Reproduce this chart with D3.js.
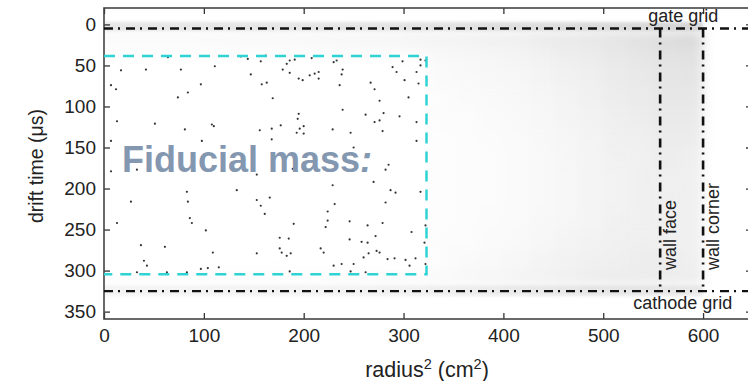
<!DOCTYPE html>
<html>
<head>
<meta charset="utf-8">
<script src="https://cdn.jsdelivr.net/npm/d3@7"></script>
<style>
  body { margin:0; overflow:hidden; background:#fff; }
  svg { display:block; font-family:"Liberation Sans", Arial, sans-serif; }
</style>
</head>
<body>
<svg width="748" height="381"></svg>
<script>
// ticks
const xTicks = [0, 100, 200, 300, 400, 500, 600]
const yTicks = [0, 50, 100, 150, 200, 250, 300, 350]

// detector boundaries (radius^2 in cm2, drift time in us)
const gateT = 5
const cathodeT = 325
const wallFaceR2 = 557
const wallCornerR2 = 600
const fiducialR2 = [0, 323]
const fiducialT = [38.5, 304.5]

// events inside the fiducial volume [radius2, drift time]
const fiducialEvents = [
  [64,40],[137,39],[144,42],[157,45],[162,38],[17,56],[42,55],[77,55],[111,51],[147,61],
  [179,55],[183,48],[186,44],[191,43],[208,41],[230,46],[233,44],[186,59],[195,66],[199,68],
  [206,62],[211,60],[215,58],[215,66],[239,55],[238,61],[299,45],[317,43],[322,44],[289,52],
  [293,58],[313,58],[317,50],[7,74],[12,79],[97,73],[84,83],[74,89],[158,73],[163,71],
  [169,90],[236,74],[267,71],[271,79],[301,68],[315,72],[305,89],[276,93],[239,104],[262,110],
  [280,108],[296,112],[195,109],[194,115],[13,118],[51,121],[108,122],[110,124],[177,123],[200,124],
  [271,119],[276,117],[313,119],[81,128],[156,129],[168,127],[193,132],[200,133],[196,127],[229,128],
  [247,132],[279,130],[7,142],[98,142],[168,140],[250,150],[313,142],[33,177],[7,179],[153,183],
  [189,176],[285,171],[282,177],[229,196],[270,192],[133,202],[83,204],[27,216],[84,216],[153,214],
  [166,211],[287,202],[292,205],[317,204],[157,221],[282,217],[231,219],[13,242],[86,236],[88,242],
  [161,231],[224,228],[224,239],[222,247],[190,243],[246,240],[264,245],[279,242],[102,251],[176,260],
  [185,261],[246,262],[272,258],[308,253],[322,245],[37,269],[61,271],[258,265],[264,266],[176,273],
  [178,278],[187,279],[183,282],[217,273],[220,278],[109,278],[153,279],[273,276],[276,278],[265,279],
  [260,284],[321,266],[40,288],[43,294],[284,286],[291,285],[302,287],[312,285],[250,292],[238,292],
  [230,294],[306,294],[322,292],[97,298],[104,297],[115,296],[33,302],[63,302],[83,302],[186,301],
  [247,301],[262,302]
]

// all other events, read as a density map: bin edges + fraction of the bin covered by dots
const cloudR2Edges = [0,25,50,75,100,125,150,175,200,225,250,275,300,325,350,375,400,425,450,475,500,525,550,575,600,625,650]
const cloudTEdges = [8, 25, 38, 50, 75, 100, 125, 150, 175, 200, 225, 250, 275, 302, 318]
const cloudDensity = [
  [.08,.08,.08,.08,.09,.1,.1,.11,.12,.13,.14,.16,.18,.2,.22,.25,.28,.32,.36,.4,.45,.5,.58,.62,0,0],
  [.04,.04,.04,.04,.05,.05,.06,.06,.07,.07,.08,.09,.1,.14,.16,.18,.21,.25,.3,.34,.4,.45,.52,.55,0,0],
  [0,0,0,0,0,0,0,0,0,0,0,0,0,.1,.12,.15,.18,.22,.27,.32,.38,.42,.48,.5,0,0],
  [0,0,0,0,0,0,0,0,0,0,0,0,0,.08,.1,.12,.15,.18,.23,.28,.34,.38,.44,.45,0,0],
  [0,0,0,0,0,0,0,0,0,0,0,0,0,.06,.08,.1,.12,.16,.2,.25,.3,.34,.4,.4,0,0],
  [0,0,0,0,0,0,0,0,0,0,0,0,0,.05,.06,.08,.1,.14,.18,.22,.27,.31,.36,.36,0,0],
  [0,0,0,0,0,0,0,0,0,0,0,0,0,.04,.05,.07,.09,.12,.16,.2,.25,.28,.32,.32,0,0],
  [0,0,0,0,0,0,0,0,0,0,0,0,0,.04,.05,.06,.08,.11,.15,.19,.23,.26,.3,.28,0,0],
  [0,0,0,0,0,0,0,0,0,0,0,0,0,.04,.05,.06,.08,.11,.14,.18,.22,.25,.28,.26,0,0],
  [0,0,0,0,0,0,0,0,0,0,0,0,0,.04,.05,.06,.08,.11,.14,.18,.22,.25,.27,.25,0,0],
  [0,0,0,0,0,0,0,0,0,0,0,0,0,.04,.05,.07,.09,.12,.15,.19,.23,.25,.27,.25,0,0],
  [0,0,0,0,0,0,0,0,0,0,0,0,0,.05,.06,.08,.11,.14,.18,.22,.25,.27,.28,.26,0,0],
  [0,0,0,0,0,0,0,0,0,0,0,0,0,.06,.08,.1,.14,.18,.22,.25,.28,.3,.3,.28,0,0],
  [.04,.04,.04,.04,.05,.05,.05,.06,.06,.07,.07,.08,.08,.1,.13,.17,.2,.24,.27,.3,.32,.33,.32,.3,0,0]
]
// dense thin bands right at the two grids
const gateBandT = [-3, 8]
const gateBand = [.4,.4,.4,.4,.4,.4,.4,.4,.42,.42,.42,.44,.45,.46,.48,.5,.5,.52,.54,.56,.58,.6,.62,.62,0,0]
const cathodeBandT = [318, 331]
const cathodeBand = [.18,.18,.18,.18,.18,.18,.18,.18,.19,.2,.21,.22,.24,.26,.28,.3,.32,.34,.36,.38,.38,.38,.36,.34,0,0]

const svg = d3.select("svg")
const margin = { top:8, left:104 }
const innerWidth = 648   // right frame falls just outside the picture
const innerHeight = 311

const xScale = d3.scaleLinear().domain([0, 649]).range([0, innerWidth])
const yScale = d3.scaleLinear().domain([-20, 359]).range([0, innerHeight])

const g = svg.append("g")
  .attr("transform", `translate(${margin.left},${margin.top})`)

const defs = svg.append("defs")
defs.append("filter").attr("id", "soft")
  .attr("x", "-5%").attr("y", "-5%").attr("width", "110%").attr("height", "110%")
  .append("feGaussianBlur").attr("stdDeviation", 6)
defs.append("filter").attr("id", "softBand")
  .attr("x", "-5%").attr("y", "-50%").attr("width", "110%").attr("height", "200%")
  .append("feGaussianBlur").attr("stdDeviation", 1.5)
defs.append("clipPath").attr("id", "plotClip")
  .append("rect").attr("width", innerWidth).attr("height", innerHeight)

// turn a density row into cells
const toCells = (row, t0, t1) => row.map((v, j) => ({ r0: cloudR2Edges[j], r1: cloudR2Edges[j+1], t0, t1, v }))
  .filter(d => d.v > 0)

const cells = []
cloudDensity.forEach((row, i) => cells.push(...toCells(row, cloudTEdges[i], cloudTEdges[i+1])))
const bandCells = toCells(gateBand, gateBandT[0], gateBandT[1])
  .concat(toCells(cathodeBand, cathodeBandT[0], cathodeBandT[1]))

const drawCells = (parent, data) => parent.selectAll("rect").data(data).enter().append("rect")
  .attr("x", d => xScale(d.r0))
  .attr("y", d => yScale(d.t0))
  .attr("width", d => xScale(d.r1) - xScale(d.r0))
  .attr("height", d => yScale(d.t1) - yScale(d.t0))
  .attr("fill", "#c4c4c4")
  .attr("fill-opacity", d => d.v)

const cloudG = g.append("g").attr("clip-path", "url(#plotClip)")
drawCells(cloudG.append("g").attr("filter", "url(#soft)"), cells)
drawCells(cloudG.append("g").attr("filter", "url(#softBand)"), bandCells)

// fiducial events
g.selectAll("circle.ev").data(fiducialEvents).enter().append("circle")
  .attr("class", "ev")
  .attr("cx", d => xScale(d[0]))
  .attr("cy", d => yScale(d[1]))
  .attr("r", 1.1)
  .attr("fill", "#333")

// axes
const xAxis = d3.axisBottom(xScale).tickValues(xTicks).tickSizeInner(-6).tickSizeOuter(0).tickPadding(10)
const yAxis = d3.axisLeft(yScale).tickValues(yTicks).tickSizeInner(-6).tickSizeOuter(0).tickPadding(8)
const xAxisG = g.append("g").attr("transform", `translate(0,${innerHeight})`).call(xAxis)
const yAxisG = g.append("g").call(yAxis)
const xTopG = g.append("g").call(d3.axisTop(xScale).tickValues(xTicks).tickSizeInner(-6).tickSizeOuter(0))
const yRightG = g.append("g").attr("transform", `translate(${innerWidth},0)`)
  .call(d3.axisRight(yScale).tickValues(yTicks).tickSizeInner(-6).tickSizeOuter(0))
xTopG.selectAll(".tick text").remove()
yRightG.selectAll(".tick text").remove()

;[xAxisG, yAxisG, xTopG, yRightG].forEach(a => {
  a.attr("font-size", 19).attr("font-family", '"Liberation Sans", Arial, sans-serif')
  a.select(".domain").remove()
  a.selectAll(".tick line").attr("stroke", "#333").attr("stroke-width", 1.3)
  a.selectAll(".tick text").attr("fill", "#222")
})

// frame
g.append("rect")
  .attr("width", innerWidth).attr("height", innerHeight)
  .attr("fill", "none").attr("stroke", "#444").attr("stroke-width", 1.6)

// fiducial box
g.append("path")
  .attr("d", `M${xScale(fiducialR2[0])},${yScale(fiducialT[0])}H${xScale(fiducialR2[1])}V${yScale(fiducialT[1])}H${xScale(fiducialR2[0])}`)
  .attr("fill", "none").attr("stroke", "#2fd3d3").attr("stroke-width", 2.5)
  .attr("stroke-dasharray", "11,8")

// grids and walls
const dashDot = "9,5,2,6"
g.append("line")
  .attr("x1", 0).attr("x2", innerWidth)
  .attr("y1", yScale(gateT)).attr("y2", yScale(gateT))
  .attr("stroke", "#111").attr("stroke-width", 2.4).attr("stroke-dasharray", dashDot)
g.append("line")
  .attr("x1", 0).attr("x2", innerWidth)
  .attr("y1", yScale(cathodeT)).attr("y2", yScale(cathodeT))
  .attr("stroke", "#111").attr("stroke-width", 2.4).attr("stroke-dasharray", dashDot)
;[wallFaceR2, wallCornerR2].forEach(r => {
  g.append("line")
    .attr("x1", xScale(r)).attr("x2", xScale(r))
    .attr("y1", yScale(gateT)).attr("y2", yScale(cathodeT))
    .attr("stroke", "#111").attr("stroke-width", 2.6).attr("stroke-dasharray", dashDot)
})

// annotations
g.append("text").text("gate grid")
  .attr("x", xScale(545)).attr("y", yScale(gateT) - 7)
  .attr("fill", "#222").style("font-size", "18px")
g.append("text").text("cathode grid")
  .attr("x", xScale(530)).attr("y", yScale(cathodeT) + 18)
  .attr("fill", "#222").style("font-size", "18px")
g.append("text").text("wall face")
  .attr("transform", `translate(${xScale(wallFaceR2) + 16},262) rotate(-90)`)
  .attr("fill", "#222").style("font-size", "18px")
g.append("text").text("wall corner")
  .attr("transform", `translate(${xScale(wallCornerR2) + 16},262) rotate(-90)`)
  .attr("fill", "#222").style("font-size", "18px")

const fid = g.append("text")
  .attr("x", 18).attr("y", 164)
  .attr("fill", "#8497b0").style("font-size", "36px").style("font-weight", "bold")
fid.append("tspan").text("Fiducial mass")
fid.append("tspan").text(":").style("font-style", "italic")

// axis titles
const xt = svg.append("text")
  .attr("x", 427).attr("y", 377)
  .attr("text-anchor", "middle").attr("fill", "#222").style("font-size", "21.5px")
xt.append("tspan").text("radius")
xt.append("tspan").text("2").attr("dy", -8).style("font-size", "14.5px")
xt.append("tspan").text(" (cm").attr("dy", 8)
xt.append("tspan").text("2").attr("dy", -8).style("font-size", "14.5px")
xt.append("tspan").text(")").attr("dy", 8)

svg.append("text").text("drift time (μs)")
  .attr("transform", "translate(43,166) rotate(-90)")
  .attr("text-anchor", "middle").attr("fill", "#222").style("font-size", "19.5px")
</script>
</body>
</html>
